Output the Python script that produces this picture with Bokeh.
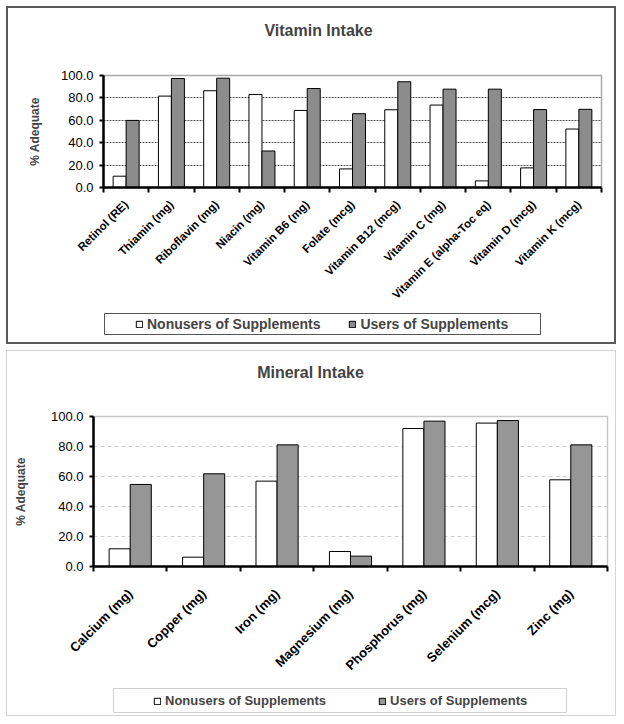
from bokeh.plotting import figure
from bokeh.models import (Range1d, FixedTicker, NumeralTickFormatter, Legend,
                          LegendItem, ColumnDataSource, Label, BoxAnnotation)
from bokeh.layouts import column
from bokeh.transform import dodge
from bokeh.embed import file_html
from bokeh.resources import INLINE
from math import pi

# ---------------- data ----------------
vit_categories = ["Retinol (RE)", "Thiamin (mg)", "Riboflavin (mg)", "Niacin (mg)",
                  "Vitamin B6 (mg)", "Folate (mcg)", "Vitamin B12 (mcg)", "Vitamin C (mg)",
                  "Vitamin E (alpha-Toc eq)", "Vitamin D (mcg)", "Vitamin K (mcg)"]
vit_nonusers = [10.1, 81.6, 86.4, 83.1, 68.8, 16.6, 69.4, 73.6, 5.9, 17.5, 52.2]
vit_users = [59.9, 97.3, 97.6, 32.6, 88.4, 65.9, 94.4, 87.8, 87.8, 69.6, 69.8]

min_categories = ["Calcium (mg)", "Copper (mg)", "Iron (mg)", "Magnesium (mg)",
                  "Phosphorus (mg)", "Selenium (mcg)", "Zinc (mg)"]
min_nonusers = [11.8, 6.2, 56.9, 10.0, 92.0, 95.6, 57.8]
min_users = [54.7, 61.8, 81.1, 6.9, 96.9, 97.3, 81.1]

y_ticks = [0, 20, 40, 60, 80, 100]
series_names = ["Nonusers of Supplements", "Users of Supplements"]

FONT = "Liberation Sans"
W_BAR = 0.287


def base_fig(cfg, height, n, bt, bb, axes=True):
    kw = {}
    if not axes:
        kw = dict(x_axis_type=None, y_axis_type=None)
    f = figure(width=cfg["width"], height=height, output_backend="svg",
               toolbar_location=None, x_range=Range1d(0, n), y_range=Range1d(0, 100),
               min_border_left=cfg["bl"], min_border_right=cfg["br"],
               min_border_top=bt, min_border_bottom=bb,
               background_fill_color="white", border_fill_color="white", **kw)
    return f


def bars(p, src, cfg, visible=True):
    r1 = p.vbar(x=dodge("x", -W_BAR / 2, range=p.x_range), top="nonusers", width=W_BAR,
                source=src, fill_color="white", line_color="black", line_width=1,
                visible=visible)
    r2 = p.vbar(x=dodge("x", W_BAR / 2, range=p.x_range), top="users", width=W_BAR,
                source=src, fill_color=cfg["gray"], line_color="black", line_width=1,
                visible=visible)
    return r1, r2


def make_title(text, n, cfg):
    t = base_fig(cfg, cfg["title_h"], n, 0, 0, axes=False)
    t.grid.grid_line_color = None
    t.outline_line_color = None
    t.add_layout(Label(x=cfg["title_x"], y=cfg["title_y"], x_units="screen", y_units="screen",
                       text=text, text_font=FONT, text_font_style="bold",
                       text_font_size="16px", text_align="center", text_baseline="middle"))
    return t


def make_chart(src, cats, cfg):
    n = len(cats)
    centers = src.data["x"]
    p = base_fig(cfg, cfg["height"], n, cfg["bt"], cfg["bb"])
    p.outline_line_color = cfg["outline"]
    p.outline_line_width = 1.5

    bars(p, src, cfg)

    # y axis
    p.yaxis.ticker = FixedTicker(ticks=y_ticks)
    p.yaxis.formatter = NumeralTickFormatter(format="0.0")
    p.yaxis.axis_label = "% Adequate"
    p.yaxis.axis_label_text_font = FONT
    p.yaxis.axis_label_text_font_style = "bold"
    p.yaxis.axis_label_text_font_size = "12px"
    p.yaxis.axis_label_standoff = cfg["ylab_standoff"]
    p.yaxis.major_label_text_font = FONT
    p.yaxis.major_label_text_font_size = "13px"
    p.yaxis.major_label_text_color = "black"
    p.yaxis.major_label_standoff = 6
    p.yaxis.major_tick_out = 4
    p.yaxis.major_tick_in = 0
    p.yaxis.major_tick_line_width = 2
    p.yaxis.minor_tick_line_color = None
    p.yaxis.axis_line_width = 2.5

    # x axis: labels at category centres, tick marks at category boundaries
    p.xaxis.ticker = FixedTicker(ticks=centers, minor_ticks=list(range(n + 1)))
    p.xaxis.major_label_overrides = {c: cat for c, cat in zip(centers, cats)}
    p.xaxis.major_label_orientation = pi / 4
    p.xaxis.major_label_text_font = FONT
    p.xaxis.major_label_text_font_style = "bold"
    p.xaxis.major_label_text_font_size = cfg["xlab_size"]
    p.xaxis.major_label_text_color = "black"
    p.xaxis.major_label_standoff = cfg["xlab_standoff"]
    p.xaxis.major_tick_line_color = None
    p.xaxis.major_tick_out = 0
    p.xaxis.major_tick_in = 0
    p.xaxis.minor_tick_out = 5
    p.xaxis.minor_tick_in = 0
    p.xaxis.minor_tick_line_width = 2
    p.xaxis.minor_tick_line_color = "black"
    p.xaxis.axis_line_width = 2.5

    # grid
    p.xgrid.grid_line_color = None
    p.ygrid.ticker = FixedTicker(ticks=y_ticks[1:-1])
    p.ygrid.grid_line_color = cfg["grid_color"]
    p.ygrid.grid_line_dash = cfg["grid_dash"]
    p.ygrid.grid_line_width = 1
    return p


def make_legend(src, n, cfg):
    lf = base_fig(cfg, cfg["leg_h"], n, 0, cfg["leg_bb"], axes=False)
    lf.grid.grid_line_color = None
    lf.outline_line_color = None
    bx0, bx1, by0, by1 = cfg["legend_box"]
    lf.add_layout(BoxAnnotation(left=bx0, right=bx1, bottom=by0, top=by1,
                                left_units="screen", right_units="screen",
                                bottom_units="screen", top_units="screen",
                                fill_alpha=0, line_color=cfg["legend_line"], line_width=1,
                                line_alpha=1))
    g1, g2 = bars(lf, src, cfg, visible=False)
    legend = Legend(items=[LegendItem(label=series_names[0], renderers=[g1]),
                           LegendItem(label=series_names[1], renderers=[g2])],
                    orientation="horizontal", location=cfg["legend_loc"],
                    border_line_color=None, background_fill_alpha=0,
                    padding=0, margin=0, spacing=cfg["legend_spacing"],
                    glyph_width=8, glyph_height=8, label_standoff=4,
                    label_text_font=FONT, label_text_font_style="bold",
                    label_text_font_size=cfg["legend_font"])
    lf.add_layout(legend)
    return lf


def make_panel(title, cats, nonusers, users, cfg, border):
    n = len(cats)
    centers = [i + 0.5 for i in range(n)]
    src = ColumnDataSource(dict(x=centers, cat=cats, nonusers=nonusers, users=users))
    t = make_title(title, n, cfg)
    c = make_chart(src, cats, cfg)
    lg = make_legend(src, n, cfg)
    return column(t, c, lg, spacing=0,
                  styles={"border": border, "background-color": "white"})


top_cfg = dict(width=606, bl=95, br=13,
               title_h=45, title_x=215, title_y=23,
               height=259, bt=22, bb=125,
               outline="#a8a8a8", gray="#8c8c8c",
               ylab_standoff=16, xlab_size="11.5px", xlab_standoff=10,
               grid_color="#555555", grid_dash="2 1",
               leg_h=30, leg_bb=7, legend_box=(1, 437, 1, 22),
               legend_line="#555555", legend_loc=(32, 3), legend_spacing=28,
               legend_font="14px")

bot_cfg = dict(width=608, bl=86, br=8,
               title_h=45, title_x=217, title_y=24,
               height=291, bt=20, bb=121,
               outline="#c8c8c8", gray="#969696",
               ylab_standoff=20, xlab_size="13px", xlab_standoff=20,
               grid_color="#cfcfcf", grid_dash="4 3",
               leg_h=28, leg_bb=2, legend_box=(20, 473, 1, 25),
               legend_line="#cfcfcf", legend_loc=(60, 5), legend_spacing=52,
               legend_font="13px")

panel1 = make_panel("Vitamin Intake", vit_categories, vit_nonusers, vit_users, top_cfg,
                    "2px solid #5a5a5a")
panel2 = make_panel("Mineral Intake", min_categories, min_nonusers, min_users, bot_cfg,
                    "1px solid #d4d4d4")

layout = column(panel1, panel2, spacing=6, margin=(6, 0, 0, 6))

open("out.html", "w").write(file_html(layout, INLINE))
